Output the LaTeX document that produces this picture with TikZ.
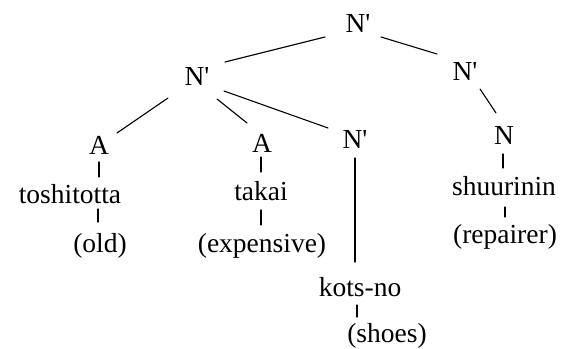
\documentclass[tikz,border=0pt]{standalone}
\usepackage{fontspec}
\setmainfont{Liberation Serif}
\begin{document}
\begin{tikzpicture}[x=1pt,y=-1pt,
  lbl/.style={anchor=base,inner sep=0pt,font=\fontsize{27.5}{30}\selectfont},
  edge/.style={line width=1.1pt,line cap=round}]
\useasboundingbox (0,0) rectangle (561,348);
\fill[white] (0,0) rectangle (561,348);
\newcommand{\Nbar}{N\textquotesingle}
% tree nodes
\node[lbl] (root) at (358,32) {\Nbar};
\node[lbl] (nl) at (197,85) {\Nbar};
\node[lbl] (nr) at (465,80) {\Nbar};
\node[lbl] (al) at (99,154) {A};
\node[lbl] (am) at (262,152) {A};
\node[lbl] (nm) at (355,148) {\Nbar};
\node[lbl] (n) at (504,144) {N};
% words
\node[lbl] (tosh) at (70,203) {toshitotta};
\node[lbl] (takai) at (261,200) {takai};
\node[lbl] (kots) at (360,296) {kots-no};
\node[lbl] (shuu) at (504,195) {shuurinin};
% glosses
\node[lbl] (old) at (100,252) {(old)};
\node[lbl] (exp) at (262,252) {(expensive)};
\node[lbl] (shoes) at (387,342) {(shoes)};
\node[lbl] (rep) at (505,243) {(repairer)};
% branches
\draw[edge] ([shift={(-33,5)}]root.base) -- ([shift={(28,-23)}]nl.base);
\draw[edge] ([shift={(23,5)}]root.base) -- ([shift={(-28,-26)}]nr.base);
\draw[edge] ([shift={(-29,13)}]nl.base) -- ([shift={(18,-21)}]al.base);
\draw[edge] ([shift={(20,14)}]nl.base) -- ([shift={(-15,-29)}]am.base);
\draw[edge] ([shift={(27,6)}]nl.base) -- ([shift={(-27,-20)}]nm.base);
\draw[edge] ([shift={(15,9)}]nr.base) -- ([shift={(-8,-31)}]n.base);
% category to word
\draw[edge] ([shift={(0,8)}]al.base) -- ([shift={(29,-26)}]tosh.base);
\draw[edge] ([shift={(-1,5)}]am.base) -- ([shift={(0,-28)}]takai.base);
\draw[edge] ([shift={(0,10)}]nm.base) -- ([shift={(-5,-34)}]kots.base);
\draw[edge] ([shift={(-1,10)}]n.base) -- ([shift={(-1,-27)}]shuu.base);
% word to gloss
\draw[edge] ([shift={(28,6)}]tosh.base) -- ([shift={(-2,-30)}]old.base);
\draw[edge] ([shift={(0,10)}]takai.base) -- ([shift={(-1,-27)}]exp.base);
\draw[edge] ([shift={(-3,9)}]kots.base) -- ([shift={(-30,-25)}]shoes.base);
\draw[edge] ([shift={(1,12)}]shuu.base) -- ([shift={(0,-26)}]rep.base);
\end{tikzpicture}
\end{document}
